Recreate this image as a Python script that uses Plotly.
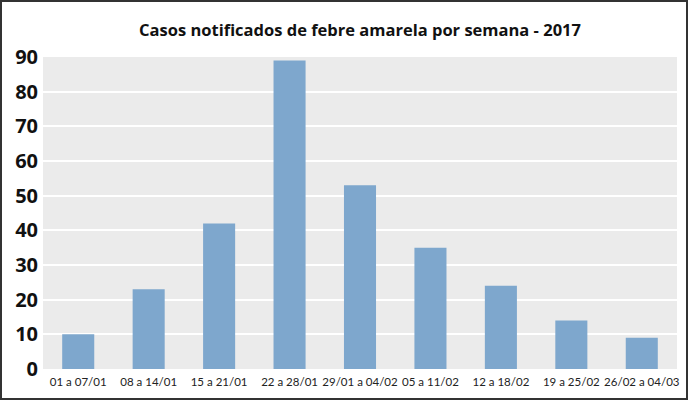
import plotly.graph_objects as go

categories = ["01 a 07/01", "08 a 14/01", "15 a 21/01", "22 a 28/01", "29/01 a 04/02",
              "05 a 11/02", "12 a 18/02", "19 a 25/02", "26/02 a 04/03"]
casos = [10, 23, 42, 89, 53, 35, 24, 14, 9]
y_ticks = [0, 10, 20, 30, 40, 50, 60, 70, 80, 90]

W, H = 688, 400
ml, mr, mt, mb = 43, 11, 57, 31
pw, ph = W - ml - mr, H - mt - mb

fig = go.Figure(go.Bar(x=categories, y=casos, marker=dict(color="#7ea7cd", line=dict(width=0)),
                       hoverinfo="x+y"))

fig.update_layout(
    width=W, height=H,
    margin=dict(l=ml, r=mr, t=mt, b=mb, autoexpand=False),
    paper_bgcolor="white",
    plot_bgcolor="#ebebeb",
    bargap=0.545,
    showlegend=False,
    font=dict(family="Lato, Open Sans, sans-serif", color="#111"),
    title=dict(text="<b>Casos notificados de febre amarela por semana - 2017</b>",
               x=0.5, xref="paper", y=1 - 30 / H, yanchor="middle",
               font=dict(size=16.5, family="Open Sans, sans-serif", color="#111")),
    xaxis=dict(showgrid=False, ticks="", tickangle=0, automargin=False, ticklabelstandoff=4,
               tickfont=dict(size=11.5, color="#222", family="Lato, sans-serif"),
               showline=False, zeroline=False),
    yaxis=dict(range=[0, 90], tickvals=y_ticks, showgrid=True, gridcolor="white", gridwidth=1.5,
               zeroline=False, showline=False, ticks="", automargin=False, ticklabelstandoff=4,
               tickfont=dict(size=20, color="#111", family="Open Sans, sans-serif", weight=700)),
    shapes=[dict(type="rect", xref="paper", yref="paper",
                 x0=-(ml - 1) / pw, x1=1 + (mr - 1) / pw,
                 y0=-(mb - 1) / ph, y1=1 + (mt - 1) / ph,
                 line=dict(color="#333", width=2), fillcolor="rgba(0,0,0,0)", layer="above")],
)

fig.write_html("out.html", config={"displayModeBar": False},
               post_script="document.body.style.margin='0';")
